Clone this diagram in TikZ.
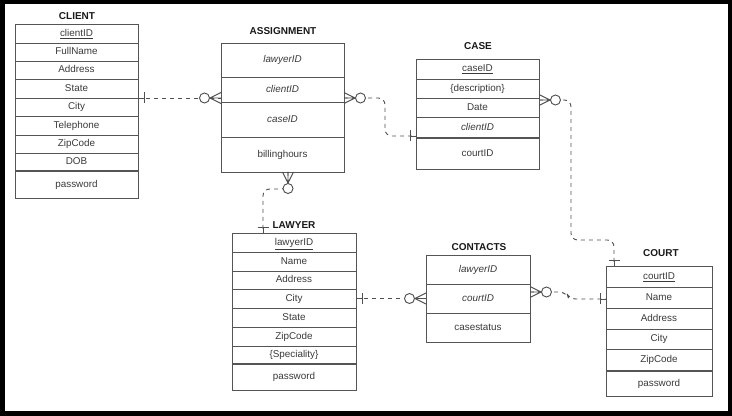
\documentclass[tikz,border=0pt]{standalone}
\usepackage{fontspec}
\setmainfont{Liberation Sans}
\usetikzlibrary{calc}
\definecolor{boxc}{HTML}{555555}
\definecolor{txtc}{HTML}{3A3A3A}
\definecolor{linec}{HTML}{505050}
\tikzset{
  fld/.style={draw=boxc, line width=0.7pt, inner sep=0pt, outer sep=0pt, text=txtc,
    text height=5.4pt, text depth=1.5pt, font=\fontsize{7.4pt}{8pt}\selectfont},
  ttl/.style={inner sep=0pt, font=\bfseries\fontsize{7.5pt}{9pt}\selectfont, text=black!90},
  conn/.style={draw=linec, line width=0.7pt, dash pattern=on 3pt off 3pt, rounded corners=5pt},
  mk/.style={draw=linec, line width=0.7pt},
  sepline/.style={draw=boxc, line width=1.5pt},
}
\newcommand{\tabrow}[6]{%
  \pgfmathsetmacro{\rowW}{(#3-#2)*0.75}%
  \pgfmathsetmacro{\rowH}{(#5-#4)*0.75}%
  \node[fld, minimum width=\rowW pt, minimum height=\rowH pt] (#1) at ({(#2+#3)/2},{(#4+#5)/2}) {#6};}
\newcommand{\zmany}[2]{\begin{scope}[shift={(#1)},rotate=#2]
  \draw[mk] (0,-5.5) -- (11,0) -- (0,5.5) (0,0) -- (11,0);
  \draw[mk,fill=white] (16.5,0) circle (5);\end{scope}}
\newcommand{\oneb}[2]{\begin{scope}[shift={(#1)},rotate=#2]
  \draw[mk] (0,0) -- (6,0) (6,-5.5) -- (6,5.5);\end{scope}}
\begin{document}
\begin{tikzpicture}[x=0.75pt,y=-0.75pt]
\useasboundingbox (0,0) rectangle (732,416);
\fill[black] (0,0) rectangle (732,416);
\fill[white] (5,4) rectangle (728,411);

% CLIENT
\node[ttl] (tClient) at (77,16) {CLIENT};
\tabrow{cId}{15}{138}{24}{43}{\underline{clientID}}
\tabrow{cName}{15}{138}{43}{61}{FullName}
\tabrow{cAddr}{15}{138}{61}{79}{Address}
\tabrow{cState}{15}{138}{79}{98}{State}
\tabrow{cCity}{15}{138}{98}{116}{City}
\tabrow{cTel}{15}{138}{116}{135}{Telephone}
\tabrow{cZip}{15}{138}{135}{153}{ZipCode}
\tabrow{cDob}{15}{138}{153}{171}{DOB}
\tabrow{cPwd}{15}{138}{171}{198}{password}
\draw[sepline] (cDob.south west) -- (cDob.south east);

% ASSIGNMENT
\node[ttl] (tAssign) at (283,31) {ASSIGNMENT};
\tabrow{aLawyer}{221}{344}{43}{77}{\textit{lawyerID}}
\tabrow{aClient}{221}{344}{77}{102}{\textit{clientID}}
\tabrow{aCase}{221}{344}{102}{137}{\textit{caseID}}
\tabrow{aBill}{221}{344}{137}{172}{billinghours}

% CASE
\node[ttl] (tCase) at (478,46) {CASE};
\tabrow{sId}{416}{539}{59}{79}{\underline{caseID}}
\tabrow{sDesc}{416}{539}{79}{98}{\{description\}}
\tabrow{sDate}{416}{539}{98}{117}{Date}
\tabrow{sClient}{416}{539}{117}{138}{\textit{clientID}}
\tabrow{sCourt}{416}{539}{138}{169}{courtID}
\draw[sepline] (sClient.south west) -- (sClient.south east);

% LAWYER
\node[ttl] (tLawyer) at (294,225) {LAWYER};
\tabrow{lId}{232}{356}{233}{252}{\underline{lawyerID}}
\tabrow{lName}{232}{356}{252}{271}{Name}
\tabrow{lAddr}{232}{356}{271}{289}{Address}
\tabrow{lCity}{232}{356}{289}{308}{City}
\tabrow{lState}{232}{356}{308}{327}{State}
\tabrow{lZip}{232}{356}{327}{346}{ZipCode}
\tabrow{lSpec}{232}{356}{346}{364}{\{Speciality\}}
\tabrow{lPwd}{232}{356}{364}{390}{password}
\draw[sepline] (lSpec.south west) -- (lSpec.south east);

% CONTACTS
\node[ttl] (tContacts) at (479,247) {CONTACTS};
\tabrow{kLawyer}{426}{530}{255}{284}{\textit{lawyerID}}
\tabrow{kCourt}{426}{530}{284}{313}{\textit{courtID}}
\tabrow{kStatus}{426}{530}{313}{342}{casestatus}

% COURT
\node[ttl] (tCourt) at (661,253) {COURT};
\tabrow{uId}{606}{712}{266}{287}{\underline{courtID}}
\tabrow{uName}{606}{712}{287}{308}{Name}
\tabrow{uAddr}{606}{712}{308}{329}{Address}
\tabrow{uCity}{606}{712}{329}{349}{City}
\tabrow{uZip}{606}{712}{349}{371}{ZipCode}
\tabrow{uPwd}{606}{712}{371}{396}{password}
\draw[sepline] (uZip.south west) -- (uZip.south east);

% connectors
\draw[conn] (cState.south east) -- (aClient.west |- cState.south east);
\draw[conn] (aClient.east |- cState.south) -- (385,98) -- (385,136) -- ($(sClient.south west)+(0,-2)$);
\draw[conn] ($(aBill.south)+(5.5,0)$) -- (288,189) -- (263,189) -- ($(lId.north west)+(31,0)$);
\draw[conn] (lCity.east) -- (kCourt.west);
\draw[conn] ($(kCourt.east)+(0,-6.5)$) -- (566,292) -- (569,299) -- ($(uName.west)+(0,1.5)$);
\draw[conn] ($(sDate.north east)+(0,2)$) -- (571,100) -- (571,240) -- (614,240) -- ($(uId.north west)+(8,0)$);

% markers
\oneb{cState.south east}{0}
\zmany{aClient.west |- cState.south east}{180}
\zmany{aClient.east |- cState.south east}{0}
\oneb{$(sClient.south west)+(0,-2)$}{180}
\zmany{$(aBill.south)+(5.5,0)$}{-90}
\oneb{$(lId.north west)+(31,0)$}{90}
\oneb{lCity.east}{0}
\zmany{kCourt.west}{180}
\zmany{$(kCourt.east)+(0,-6.5)$}{0}
\oneb{$(uName.west)+(0,1.5)$}{180}
\zmany{$(sDate.north east)+(0,2)$}{0}
\oneb{$(uId.north west)+(8,0)$}{90}
\end{tikzpicture}
\end{document}
